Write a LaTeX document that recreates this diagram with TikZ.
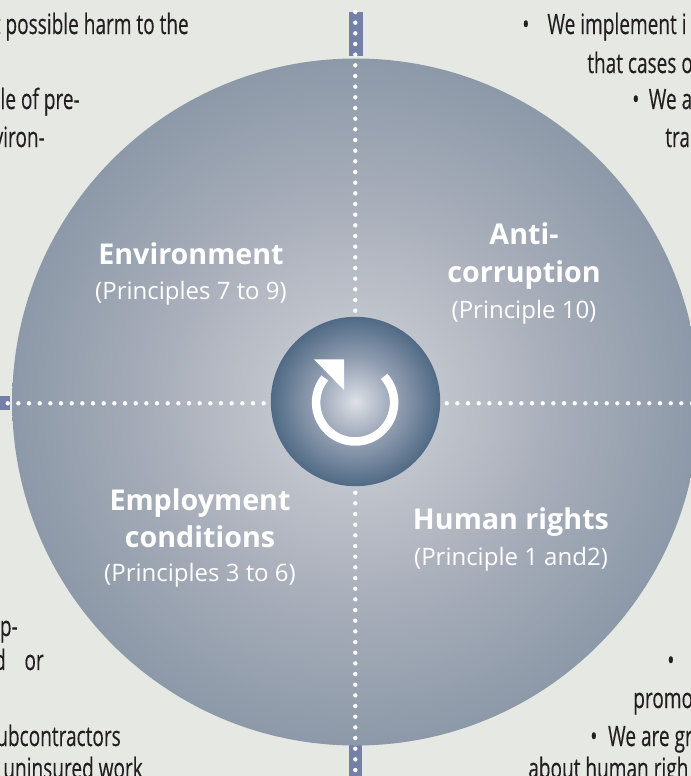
\documentclass[tikz,border=0pt]{standalone}
\usepackage{fontspec}
\setmainfont{Open Sans}
\newfontfamily\bodyfont[FakeStretch=0.68,FakeBold=0.25]{Open Sans}
\usetikzlibrary{positioning}
\definecolor{pagebg}{HTML}{E6E8E3}
\definecolor{tabblue}{HTML}{7480A8}
\definecolor{bodyink}{HTML}{231F20}
\pgfdeclareradialshading{bigdisc}{\pgfpoint{0bp}{0bp}}{rgb(0bp)=(0.835,0.847,0.871);
  rgb(6.5bp)=(0.749,0.765,0.796); rgb(15bp)=(0.655,0.678,0.725); rgb(25bp)=(0.549,0.6,0.659); rgb(50bp)=(0.549,0.6,0.659)}
\pgfdeclareradialshading{hubdisc}{\pgfpoint{0bp}{0bp}}{rgb(0bp)=(0.871,0.882,0.91);
  rgb(12.5bp)=(0.573,0.62,0.694); rgb(25bp)=(0.314,0.416,0.522); rgb(50bp)=(0.314,0.416,0.522)}
\tikzset{
  bodytext/.style={font=\bodyfont\fontsize{21}{24}\selectfont,text=bodyink,inner sep=0pt},
  headtext/.style={font=\fontsize{21.5}{24}\selectfont\bfseries,text=white,inner sep=0pt,anchor=base},
  subtext/.style={font=\fontsize{18}{20}\selectfont,text=white,inner sep=0pt,anchor=base},
  dotline/.style={white,line width=3.3pt,line cap=round,dash pattern=on 0pt off 8pt},
  tabbox/.style={fill=tabblue,draw=none}
}
\begin{document}
\begin{tikzpicture}[x=0.75pt,y=-0.75pt]
\useasboundingbox (0,0) rectangle (691,776);
\clip (0,0) rectangle (691,776);
\fill[pagebg] (0,0) rectangle (691,776);

% tabs behind the disc
\fill[tabbox] (349,12) rectangle (363,56);
\fill[tabbox] (349,740) rectangle (362,776);
\fill[tabbox] (0,396) rectangle (10,410);
\path[shading=bigdisc] (355.7,402) circle (343.5);

% dotted cross
\draw[dotline] (355.3,12) -- (355.3,312);
\draw[dotline] (355.3,492.7) -- (355.3,772);
\draw[dotline] (7.7,403.3) -- (265,403.3);
\draw[dotline] (446.7,403.3) -- (695,403.3);

% hub
\path[shading=hubdisc] (355.5,401.5) circle (84.7);
\draw[white,line width=6.4pt] (384.1,376.4) arc (-42:219:39);
\fill[white] (314,359.3) -- (344,359.3) -- (344,390) -- cycle;

% disc labels
\node[headtext] (envhead) at (191,264) {Environment};
\node[subtext] (envsub) at (191,299) {(Principles 7 to 9)};
\node[headtext] (antihead) at (524,244) {Anti-};
\node[headtext] (corrhead) at (524,282) {corruption};
\node[subtext] (antisub) at (524,318) {(Principle 10)};
\node[headtext] (emphead) at (200,510) {Employment};
\node[headtext] (condhead) at (200,547) {conditions};
\node[subtext] (empsub) at (200,581) {(Principles 3 to 6)};
\node[headtext] (humhead) at (511,529) {Human rights};
\node[subtext] (humsub) at (511,565) {(Principle 1 and2)};

% cut off text, left
\node[bodytext,anchor=base east] (leftA) at (189,34) {t possible harm to the};
\node[bodytext,anchor=base east] (leftB) at (80,109) {le of pre-};
\node[bodytext,anchor=base east] (leftC) at (45,147) {viron-};
\node[bodytext,anchor=base east] (leftD) at (18,636) {p-};
\node[bodytext,anchor=base east] (leftE) at (44,670) {d\hspace{14pt}or};
\node[bodytext,anchor=base east] (leftF) at (121,746) {ubcontractors};
\node[bodytext,anchor=base east] (leftG) at (143,778) {uninsured work};

% cut off text, right
\node[bodytext,anchor=base west] (rightA) at (522,34) {•\hspace{13.5pt}We implement i};
\node[bodytext,anchor=base west] (rightB) at (587,73) {that cases o};
\node[bodytext,anchor=base west] (rightC) at (632,109) {•\hspace{7pt}We a};
\node[bodytext,anchor=base west] (rightD) at (665,147) {tra};
\node[bodytext,anchor=base west] (rightE) at (667,670) {•};
\node[bodytext,anchor=base west] (rightF) at (633,708) {promo};
\node[bodytext,anchor=base west] (rightG) at (590,746) {•\hspace{8pt}We are gr};
\node[bodytext,anchor=base west] (rightH) at (528,778) {about human righ};
\end{tikzpicture}
\end{document}
